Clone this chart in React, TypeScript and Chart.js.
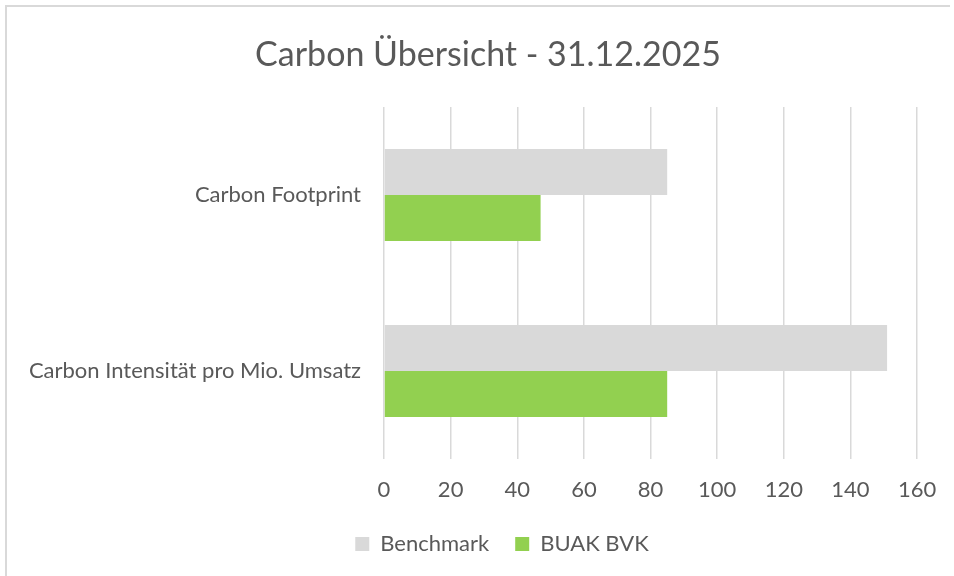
import React, { useEffect, useRef } from "react";
import { Chart, registerables } from "chart.js";

Chart.register(...registerables);

const titleText = "Carbon Übersicht - 31.12.2025";
const categories = ["Carbon Footprint", "Carbon Intensität pro Mio. Umsatz"];
const seriesNames = ["Benchmark", "BUAK BVK"];
const benchmarkValues = [85, 151];
const buakValues = [47, 85];
const xMin = 0;
const xMax = 160;
const xStep = 20;

const FONT = "Lato";
const TEXT_COLOR = "#595959";
const GRID_COLOR = "#d9d9d9";
const BENCH_COLOR = "#d9d9d9";
const BUAK_COLOR = "#92d050";

const PAD_RIGHT = 34;
const TITLE_LEFT = 56;
const LEGEND_LEFT = 84;

const framePlugin = {
  id: "frame",
  beforeDraw(chart: any) {
    // shift title / legend centring to match the original chart frame
    if (chart.titleBlock) chart.titleBlock.left = TITLE_LEFT;
    if (chart.legend) chart.legend.left = LEGEND_LEFT;
    const ctx = chart.ctx;
    ctx.save();
    ctx.fillStyle = "#ffffff";
    ctx.fillRect(0, 0, chart.width, chart.height);
    // chart frame: only its top and left edges fall inside the picture
    ctx.fillStyle = "#d9d9d9";
    ctx.fillRect(5, 5, chart.width - 9, 2);
    ctx.fillRect(5, 5, 2, chart.height - 5);
    ctx.restore();
  },
};

export default function App() {
  const canvasRef = useRef<HTMLCanvasElement | null>(null);

  useEffect(() => {
    if (!canvasRef.current) return;
    const chart = new Chart(canvasRef.current, {
      type: "bar",
      data: {
        labels: categories,
        datasets: [
          {
            label: seriesNames[0],
            data: benchmarkValues,
            backgroundColor: BENCH_COLOR,
            borderWidth: 0,
            categoryPercentage: 0.523,
            barPercentage: 1,
          },
          {
            label: seriesNames[1],
            data: buakValues,
            backgroundColor: BUAK_COLOR,
            borderWidth: 0,
            categoryPercentage: 0.523,
            barPercentage: 1,
          },
        ],
      },
      options: {
        indexAxis: "y",
        responsive: false,
        animation: false,
        devicePixelRatio: 1,
        layout: {
          padding: { left: 0, right: PAD_RIGHT, top: 0, bottom: 11 },
        },
        scales: {
          x: {
            type: "linear",
            min: xMin,
            max: xMax,
            ticks: {
              stepSize: xStep,
              color: TEXT_COLOR,
              padding: 17.8,
              font: { family: FONT, size: 22 },
            },
            grid: {
              color: GRID_COLOR,
              lineWidth: 1.5,
              drawTicks: false,
            },
            border: { display: false },
            afterFit(scale: any) {
              scale.height = 48;
            },
          },
          y: {
            type: "category",
            ticks: {
              color: TEXT_COLOR,
              padding: 23,
              font: { family: FONT, size: 22 },
            },
            grid: { display: false, drawTicks: false },
            border: { display: false },
            afterFit(scale: any) {
              scale.width = 384;
            },
          },
        },
        plugins: {
          title: {
            display: true,
            text: titleText,
            color: TEXT_COLOR,
            font: { family: FONT, size: 34, weight: "normal" },
            padding: { top: 34.6, bottom: 31.6 },
          },
          legend: {
            display: true,
            position: "bottom",
            labels: {
              boxWidth: 14,
              boxHeight: 14,
              padding: 26,
              color: TEXT_COLOR,
              font: { family: FONT, size: 22 },
            },
          },
          tooltip: { enabled: false },
        },
      },
      plugins: [framePlugin],
    });
    return () => chart.destroy();
  }, []);

  return (
    <div
      style={{
        position: "absolute",
        left: 0,
        top: 0,
        width: 954,
        height: 576,
        overflow: "hidden",
      }}
    >
      <canvas ref={canvasRef} width={954} height={576} style={{ display: "block" }} />
    </div>
  );
}
